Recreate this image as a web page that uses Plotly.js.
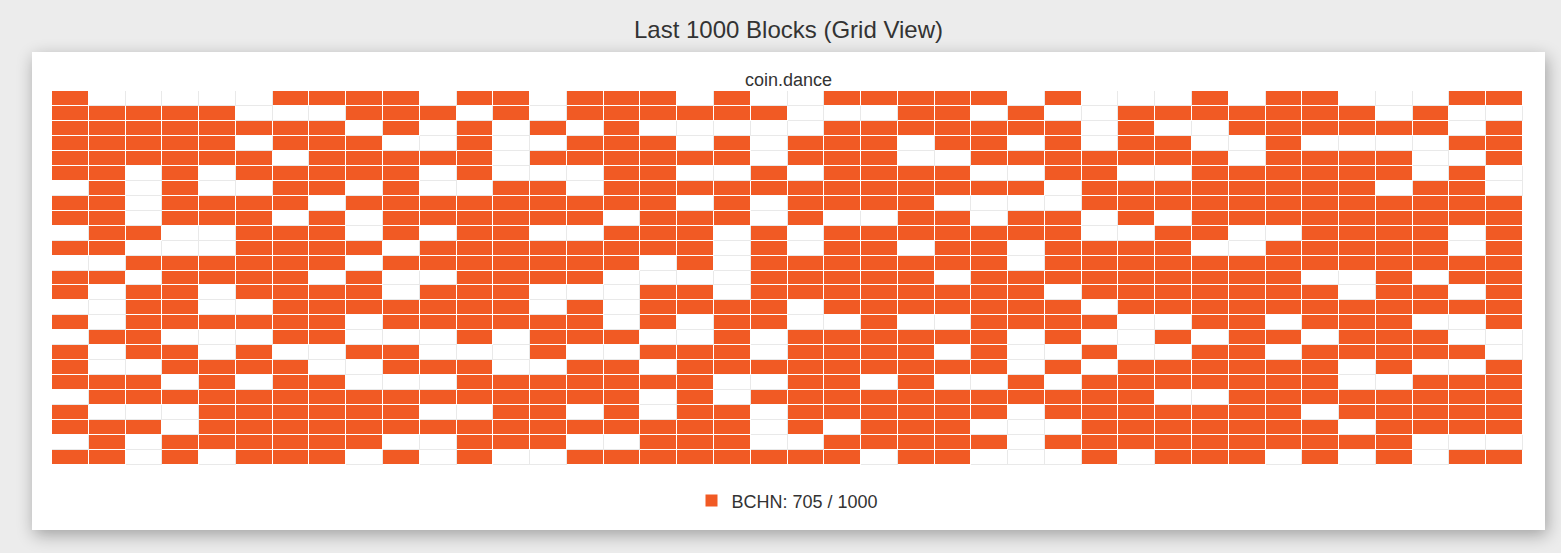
<!DOCTYPE html>
<html>
<head>
<meta charset="utf-8">
<script src="https://cdn.plot.ly/plotly-3.0.1.min.js"></script>
<style>
  html, body { margin: 0; padding: 0; background: #ececec; width: 1561px; height: 553px; overflow: hidden; font-family: "Liberation Sans", Arial, sans-serif; }
  #pageTitle { position: absolute; left: 32px; top: 13px; width: 1513px; text-align: center; font-size: 24px; color: #333; line-height: 34px; }
  #card { position: absolute; left: 32px; top: 52px; width: 1513px; height: 478px; background: #fff; box-shadow: 2px 5px 16px rgba(0,0,0,0.32); }
  #chart { width: 1513px; height: 478px; }
</style>
</head>
<body>
<div id="pageTitle">Last 1000 Blocks (Grid View)</div>
<div id="card"><div id="chart"></div></div>
<script>
// Each string is one grid row (top to bottom), 40 blocks each: 1 = BCHN block, 0 = other
const blockRows = [
  "1000001111" + "0110111010" + "0111110100" + "0101100011",
  "1111100011" + "1010111111" + "0001101001" + "1111110100",
  "1111111101" + "0101010000" + "0111111101" + "0011111101",
  "1111101110" + "0100111010" + "1110110101" + "1001000011",
  "1111110111" + "1101111110" + "1110011111" + "1101111001",
  "1101011111" + "0100011001" + "0111100110" + "0111111010",
  "0101001101" + "0011011111" + "1111111011" + "1111110110",
  "1101111011" + "1111111010" + "1111000011" + "1111111111",
  "1101110101" + "1111101110" + "1001101101" + "0111111111",
  "0110011101" + "0110011101" + "0111111100" + "1100111101",
  "1100011110" + "1111111101" + "0110110111" + "1001111101",
  "0011111101" + "1111110101" + "1111110111" + "1111111111",
  "1101111010" + "0111100001" + "1111011111" + "1111001011",
  "1011011110" + "1110001101" + "1111111011" + "1111101101",
  "0011001111" + "1110101111" + "0111111101" + "1111111111",
  "1011111101" + "1111101011" + "0010011110" + "0110111001",
  "0110001100" + "0101110010" + "1111110100" + "1011011100",
  "1011010011" + "0001001110" + "1111010010" + "0110111110",
  "1001111001" + "1100110111" + "1111110101" + "1111101001",
  "1110101100" + "0111111100" + "1101001011" + "1111100111",
  "0111111111" + "1111110101" + "1111111111" + "0011111111",
  "1000111111" + "0011010110" + "1111110111" + "1111011111",
  "1110111111" + "1111111110" + "1011100011" + "1111101111",
  "0101111110" + "0111001110" + "0111110111" + "1111111000",
  "1101011101" + "0100111111" + "1101100010" + "1110101011"
];
const columns = Array.from({length: 40}, (_, i) => i);
const rowIndex = Array.from({length: 25}, (_, i) => i);
const seriesName = "BCHN: 705 / 1000";
const chartSubtitle = "coin.dance";

const z = blockRows.map(r => r.split("").map(Number));

const borderLayer = {
  type: "heatmap", x: columns, y: rowIndex, z: z,
  zmin: 0, zmax: 1,
  colorscale: [[0, "#e9e9e9"], [1, "#ffffff"]],
  showscale: false, hoverinfo: "skip", showlegend: false
};
const cells = {
  type: "heatmap", x: columns, y: rowIndex, z: z,
  zmin: 0, zmax: 1,
  colorscale: [[0, "#ffffff"], [1, "#f15a24"]],
  xgap: 1, ygap: 1,
  showscale: false, showlegend: false,
  hovertemplate: "Block %{x},%{y}<extra></extra>"
};
const legendEntry = {
  type: "bar", x: [null], y: [null], name: seriesName,
  marker: { color: "#f15a24" }, showlegend: true, hoverinfo: "skip"
};

const layout = {
  width: 1513, height: 478,
  margin: { l: 20, r: 22, t: 39, b: 64 },
  paper_bgcolor: "#ffffff", plot_bgcolor: "#ffffff",
  font: { family: "Liberation Sans, Arial, sans-serif", color: "#333333" },
  title: { text: chartSubtitle, font: { size: 18, color: "#333333" }, x: 0.5, xanchor: "center", xref: "container", yref: "container", y: 1 - 28 / 478, yanchor: "middle" },
  xaxis: { visible: false, range: [-0.5, 39.5], fixedrange: true },
  yaxis: { visible: false, range: [24.5, -0.5], fixedrange: true },
  showlegend: true,
  legend: { orientation: "h", x: 0.5, xanchor: "center", y: -0.093, yanchor: "middle", font: { size: 18, color: "#333333" }, bgcolor: "rgba(0,0,0,0)" },
  bargap: 0
};

Plotly.newPlot("chart", [borderLayer, cells, legendEntry], layout, { displayModeBar: false, staticPlot: true });
</script>
</body>
</html>
